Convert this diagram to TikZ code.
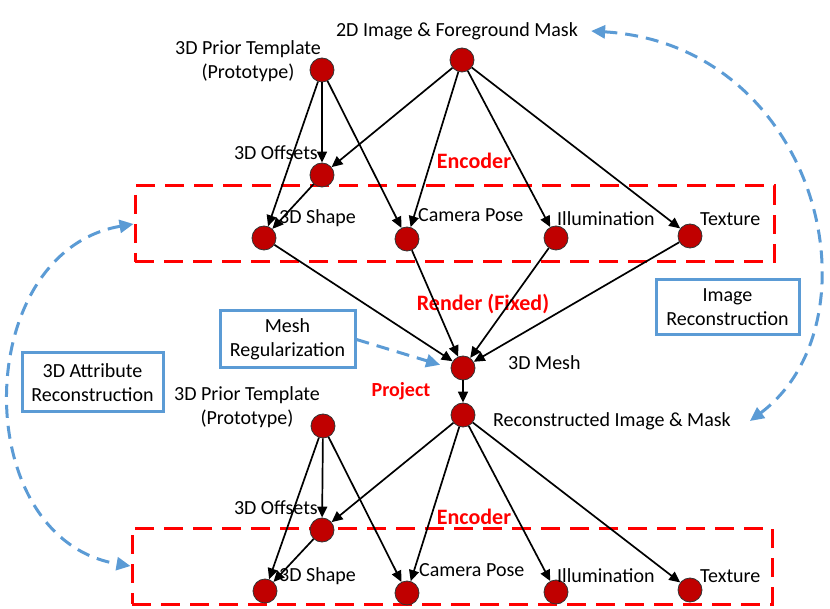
\documentclass[tikz,border=0pt]{standalone}
\usepackage{fontspec}
\setmainfont{Carlito}
\usetikzlibrary{arrows.meta}
\definecolor{dotred}{RGB}{192,0,0}
\definecolor{accblue}{RGB}{91,155,213}
\definecolor{boxred}{RGB}{255,0,0}
\begin{document}
\begin{tikzpicture}[x=1pt,y=-1pt,
  every node/.style={font=\fontsize{20}{24}\selectfont, inner sep=0pt},
  dot/.style={circle, draw=black!80, line width=0.8pt, fill=dotred, minimum size=24pt},
  arr/.style={-{Triangle[length=11pt,width=10pt]}, line width=1.7pt, draw=black},
  encbox/.style={draw=boxred, line width=3pt, dash pattern=on 19pt off 10pt, minimum width=639pt, minimum height=76pt},
  tagbox/.style={draw=accblue, line width=3pt, align=center, fill=white},
  redlbl/.style={font=\fontsize{22}{26}\selectfont\bfseries, text=boxred},
  txt/.style={align=center},
  bluedash/.style={draw=accblue, line width=3pt, dash pattern=on 13pt off 8pt},
  bluetip/.style={-{Triangle[length=14pt,width=13pt]}},
  bluetips/.style={{Triangle[length=14pt,width=13pt]}-{Triangle[length=14pt,width=13pt]}}
]
\useasboundingbox (0,0) rectangle (830,609);

% encoder boxes
\node[encbox] (box1) at (454.5,224) {};
\node[encbox, minimum width=640pt] (box2) at (452,566) {};

% blue tag boxes
\node[tagbox, minimum width=135pt, minimum height=57pt] (mreg) at (287.5,339.5) {Mesh\\Regularization};
\node[tagbox, minimum width=141pt, minimum height=59pt] (attr) at (92.5,382.5) {3D Attribute\\Reconstruction};
\node[tagbox, minimum width=143pt, minimum height=55pt] (imrec) at (727.5,307.5) {Image\\Reconstruction};

% dots top
\node[dot] (p1) at (322,70) {};
\node[dot] (i1) at (462,60) {};
\node[dot] (o1) at (322,175) {};
\node[dot] (s1) at (264,238) {};
\node[dot] (c1) at (407,239) {};
\node[dot] (l1) at (556,238) {};
\node[dot] (t1) at (690,236) {};
\node[dot] (m) at (463,368) {};
\node[dot] (r) at (463,415) {};
% dots bottom
\node[dot] (p2) at (323,426) {};
\node[dot] (o2) at (322,530) {};
\node[dot] (s2) at (265,591) {};
\node[dot] (c2) at (407,593) {};
\node[dot] (l2) at (556,592) {};
\node[dot] (t2) at (690,590) {};

% labels
\node (lblimg) at (457,31) {2D Image \& Foreground Mask};
\node[txt] (lblp1) at (248,61) {3D Prior Template\\(Prototype)};
\node[anchor=east] (lblo1) at (318,153) {3D Offsets};
\node[redlbl] (enc1) at (474,161) {Encoder};
\node[anchor=west] (lbls1) at (279,218) {3D Shape};
\node[anchor=west] (lblc1) at (418,215) {Camera Pose};
\node[anchor=west] (lbll1) at (557,219) {Illumination};
\node[anchor=west] (lblt1) at (700,219) {Texture};
\node[redlbl] (rend) at (483,304) {Render (Fixed)};
\node[anchor=west] (lblm) at (508,363) {3D Mesh};
\node[redlbl, font=\fontsize{20}{24}\selectfont\bfseries] (proj) at (401,391) {Project};
\node[anchor=west] (lblr) at (493,421) {Reconstructed Image \& Mask};
\node[txt] (lblp2) at (247,407) {3D Prior Template\\(Prototype)};
\node[anchor=east] (lblo2) at (318,508) {3D Offsets};
\node[redlbl] (enc2) at (474,517) {Encoder};
\node[anchor=west] (lbls2) at (279,576) {3D Shape};
\node[anchor=west] (lblc2) at (419,570) {Camera Pose};
\node[anchor=west] (lbll2) at (557,576) {Illumination};
\node[anchor=west] (lblt2) at (700,576) {Texture};

% top encoder edges
\draw[arr] (p1) -- (o1);
\draw[arr] (p1) -- (s1);
\draw[arr] (p1) -- (c1);
\draw[arr] (i1) -- (o1);
\draw[arr] (i1) -- (c1);
\draw[arr] (i1) -- (l1);
\draw[arr] (i1) -- (t1);
\draw[arr] (o1) -- (s1);
% render
\draw[arr] (s1) -- (m);
\draw[arr] (c1) -- (m);
\draw[arr] (l1) -- (m);
\draw[arr] (t1) -- (m);
\draw[arr] (m) -- (r);
% bottom encoder edges
\draw[arr] (p2) -- (o2);
\draw[arr] (p2) -- (s2);
\draw[arr] (p2) -- (c2);
\draw[arr] (r) -- (o2);
\draw[arr] (r) -- (c2);
\draw[arr] (r) -- (l2);
\draw[arr] (r) -- (t2);
\draw[arr] (o2) -- (s2);

% blue dashed connectors
\draw[bluedash, bluetip, shorten >=11pt] (mreg.east) -- (m.west);
\draw[bluedash, bluetips] ([xshift=13pt]lblimg.east) .. controls +(228,14) and +(133,-100) .. ([xshift=19pt]lblr.east);
\draw[bluedash, bluetips] (box1.west) .. controls +(-163,28) and +(-163,-27) .. (box2.west);
\end{tikzpicture}
\end{document}
